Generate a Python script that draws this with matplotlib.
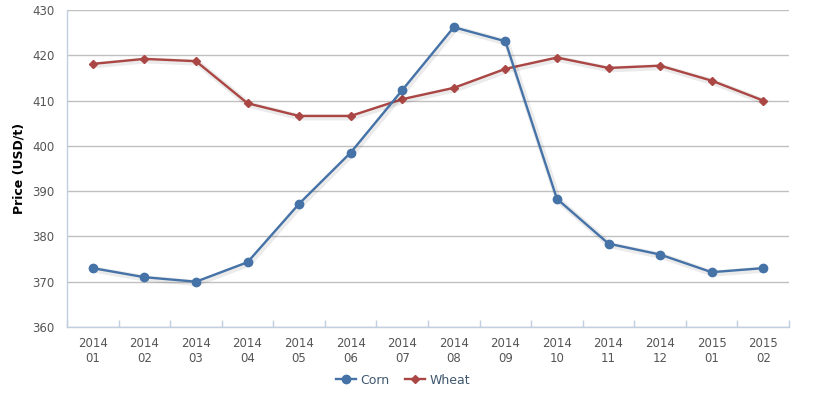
import matplotlib
matplotlib.use("Agg")
import matplotlib.pyplot as plt
import matplotlib.patheffects as pe
from matplotlib.lines import Line2D
import numpy as np

categories = ["2014\n01", "2014\n02", "2014\n03", "2014\n04", "2014\n05", "2014\n06", "2014\n07",
              "2014\n08", "2014\n09", "2014\n10", "2014\n11", "2014\n12", "2015\n01", "2015\n02"]
corn = [373.0, 371.0, 370.0, 374.3, 387.2, 398.5, 412.3, 426.2, 423.1, 388.3, 378.4, 376.0, 372.1, 373.0]
wheat = [418.1, 419.2, 418.7, 409.4, 406.6, 406.6, 410.3, 412.8, 417.0, 419.5, 417.2, 417.7, 414.4, 410.0]
yticks = [360, 370, 380, 390, 400, 410, 420, 430]

corn_color = "#4572A7"
wheat_color = "#AA4643"

fig = plt.figure(figsize=(8.14, 3.98), dpi=100)
ax = fig.add_axes([67/814, 1-327/398, 722/814, 317/398])

x = np.arange(len(categories))
shadow = [pe.SimpleLineShadow(offset=(1, -1), shadow_color="black", alpha=0.08, linewidth=4.5), pe.Normal()]
ax.plot(x, wheat, color=wheat_color, lw=1.7, zorder=3, path_effects=shadow)
ax.plot(x, wheat, color=wheat_color, lw=0, marker="D", ms=4.5, zorder=3)
ax.plot(x, corn, color=corn_color, lw=1.7, zorder=4, path_effects=shadow)
ax.plot(x, corn, color=corn_color, lw=0, marker="o", ms=6, zorder=4)

ax.set_xlim(-0.5, len(categories)-0.5)
ax.set_ylim(360, 430)
ax.set_yticks(yticks)
ax.set_yticklabels([str(v) for v in yticks], fontsize=8.5, color="#555555")
ax.set_xticks(x)
ax.set_xticklabels(categories, fontsize=8.5, color="#555555", linespacing=1.25)
ax.set_xticks(np.arange(len(categories)+1) - 0.5, minor=True)
ax.tick_params(axis="x", which="major", length=0, pad=7)
ax.tick_params(axis="x", which="minor", length=5, direction="in", color="#C0D0E0", width=1)
ax.tick_params(axis="y", length=0, pad=9)
ax.grid(axis="y", color="#C0C0C0", lw=1)
ax.set_axisbelow(True)
for s in ["top", "right"]:
    ax.spines[s].set_visible(False)
ax.spines["bottom"].set_color("#C0D0E0")
ax.spines["left"].set_color("#C0D0E0")
ax.spines["bottom"].set_linewidth(1)
ax.spines["left"].set_linewidth(1)

ax.set_ylabel("Price (USD/t)", fontsize=9, fontweight="bold", color="black")
ax.yaxis.set_label_coords(-0.058, 0.5)

handles = [Line2D([], [], color=corn_color, lw=1.7, marker="o", ms=6),
           Line2D([], [], color=wheat_color, lw=1.7, marker="D", ms=4.5)]
fig.legend(handles, ["Corn", "Wheat"], loc="center", bbox_to_anchor=(0.495, 1-380/398), ncol=2,
           frameon=False, fontsize=9, handlelength=1.6, handletextpad=0.4, columnspacing=1.2,
           labelcolor="#3E576F")

fig.savefig("out.png", dpi=100)
